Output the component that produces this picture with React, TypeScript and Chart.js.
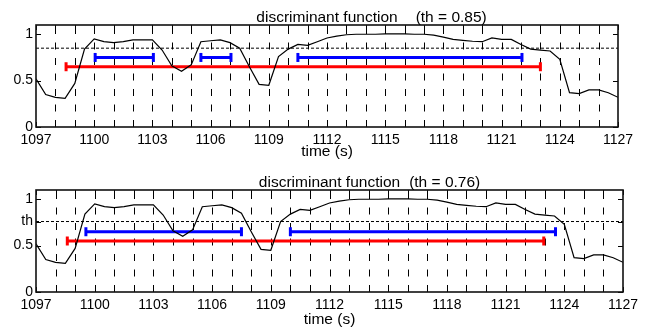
import React, { useEffect, useRef } from "react";
import { Chart, registerables } from "chart.js";

Chart.register(...registerables);

const FONT = '"Liberation Sans", Arial, Helvetica, sans-serif';

const X_MIN = 1097;
const X_MAX = 1127;
const X_TICK_LABELS = [1097, 1100, 1103, 1106, 1109, 1112, 1115, 1118, 1121, 1124, 1127];

const TIMES = [
  1097, 1097.5, 1098, 1098.5, 1099, 1099.5, 1100, 1100.5, 1101, 1101.5,
  1102, 1102.5, 1103, 1103.5, 1104, 1104.5, 1105, 1105.5, 1106, 1106.5,
  1107, 1107.5, 1108, 1108.5, 1109, 1109.5, 1110, 1110.5, 1111, 1111.5,
  1112, 1112.5, 1113, 1113.5, 1114, 1114.5, 1115, 1115.5, 1116, 1116.5,
  1117, 1117.5, 1118, 1118.5, 1119, 1119.5, 1120, 1120.5, 1121, 1121.5,
  1122, 1122.5, 1123, 1123.5, 1124, 1124.5, 1125, 1125.5, 1126, 1126.5,
  1127,
];
const SCORES = [
  0.52, 0.35, 0.32, 0.31, 0.47, 0.84, 0.95, 0.92, 0.91, 0.92,
  0.94, 0.94, 0.94, 0.83, 0.66, 0.6, 0.67, 0.92, 0.93, 0.94,
  0.91, 0.85, 0.65, 0.46, 0.45, 0.76, 0.84, 0.89, 0.88, 0.92,
  0.96, 0.98, 0.995, 1.0, 1.0, 1.0, 1.005, 1.005, 1.005, 1.0,
  1.0, 0.99, 0.97, 0.945, 0.935, 0.925, 0.92, 0.96, 0.945, 0.945,
  0.89, 0.84, 0.83, 0.82, 0.73, 0.37, 0.36, 0.4, 0.4, 0.37,
  0.32,
];

const TOP_TH = 0.85;
const TOP_BLUE_START = [1100.05, 1105.5, 1110.5];
const TOP_BLUE_END = [1103.05, 1107.05, 1122.05];
const TOP_BLUE_LEVEL = 0.75;
const TOP_RED_START = [1098.55];
const TOP_RED_END = [1123.0];
const TOP_RED_LEVEL = 0.65;
const TOP_Y_TICKS = [0, 0.5, 1];
const TOP_Y_LABELS = ["0", "0.5", "1"];

const BOTTOM_TH = 0.76;
const BOTTOM_BLUE_START = [1099.55, 1110.0];
const BOTTOM_BLUE_END = [1107.5, 1123.55];
const BOTTOM_BLUE_LEVEL = 0.65;
const BOTTOM_RED_START = [1098.6];
const BOTTOM_RED_END = [1122.95];
const BOTTOM_RED_LEVEL = 0.55;
const BOTTOM_Y_TICKS = [0, 0.5, BOTTOM_TH, 1];
const BOTTOM_Y_LABELS = ["0", "0.5", "th", "1"];

type Panel = {
  th: number;
  blueStart: number[];
  blueEnd: number[];
  blueLevel: number;
  redStart: number[];
  redEnd: number[];
  redLevel: number;
  yTicks: number[];
  yLabels: string[];
  rightPad: number;
  height: number;
  xAxisHeight: number;
  titleGap: number;
  xTitlePad: number;
};

function intervalData(starts: number[], ends: number[], level: number) {
  const out: { x: number; y: number | null }[] = [];
  starts.forEach((s, i) => {
    out.push({ x: s, y: level });
    out.push({ x: ends[i], y: level });
    out.push({ x: ends[i], y: null });
  });
  return out;
}

const decorPlugin = {
  id: "decor",
  beforeDatasetsDraw(chart: any) {
    const { ctx, chartArea: a, scales } = chart;
    const xs = scales.x;
    ctx.save();
    ctx.strokeStyle = "#000";
    ctx.lineWidth = 1;
    ctx.setLineDash([7, 8.5]);
    xs.ticks.forEach((t: any) => {
      if (t.value <= X_MIN || t.value >= X_MAX) return;
      const px = Math.round(xs.getPixelForValue(t.value)) + 0.5;
      ctx.beginPath();
      ctx.moveTo(px, a.bottom);
      ctx.lineTo(px, a.top);
      ctx.stroke();
    });
    ctx.restore();
  },
  afterDatasetsDraw(chart: any, _args: any, opts: any) {
    const { ctx, chartArea: a, scales } = chart;
    const xs = scales.x;
    const ys = scales.y;
    ctx.save();
    ctx.strokeStyle = "#000";
    ctx.lineWidth = 1;
    ctx.setLineDash([]);
    const tl = 5;
    xs.ticks.forEach((t: any) => {
      const px = Math.round(xs.getPixelForValue(t.value)) + 0.5;
      ctx.beginPath();
      ctx.moveTo(px, a.bottom);
      ctx.lineTo(px, a.bottom - tl);
      ctx.moveTo(px, a.top);
      ctx.lineTo(px, a.top + tl);
      ctx.stroke();
    });
    ys.ticks.forEach((t: any) => {
      const py = Math.round(ys.getPixelForValue(t.value)) + 0.5;
      ctx.beginPath();
      ctx.moveTo(a.left, py);
      ctx.lineTo(a.left + tl, py);
      ctx.moveTo(a.right, py);
      ctx.lineTo(a.right - tl, py);
      ctx.stroke();
    });
    ctx.lineWidth = 1.6;
    ctx.strokeStyle = "#111";
    ctx.strokeRect(a.left, a.top, a.right - a.left, a.bottom - a.top);

    // title
    ctx.fillStyle = "#000";
    ctx.font = `15.5px ${FONT}`;
    ctx.textBaseline = "alphabetic";
    ctx.textAlign = "center";
    const cx = (a.left + a.right) / 2;
    const ty = a.top - 3.3;
    const main = "discriminant function";
    ctx.fillText(main, cx, ty);
    const w = ctx.measureText(main).width;
    ctx.textAlign = "left";
    ctx.fillText(opts.note, cx + w / 2 + opts.gap, ty);
    ctx.restore();
  },
};

function PanelChart({ p }: { p: Panel }) {
  const ref = useRef<HTMLCanvasElement>(null);
  useEffect(() => {
    if (!ref.current) return;
    const curve = TIMES.map((t, i) => ({ x: t, y: SCORES[i] }));
    const chart = new Chart(ref.current, {
      type: "line",
      data: {
        datasets: [
          {
            data: [
              { x: X_MIN, y: p.th },
              { x: X_MAX, y: p.th },
            ],
            borderColor: "#000",
            borderWidth: 1,
            borderDash: [3, 2],
            pointRadius: 0,
          },
          {
            data: curve,
            borderColor: "#000",
            borderWidth: 1.2,
            pointRadius: 0,
            tension: 0,
          },
          {
            data: intervalData(p.redStart, p.redEnd, p.redLevel),
            borderColor: "#ff0000",
            borderWidth: 3,
            pointStyle: "line",
            pointRotation: 90,
            pointRadius: 4.5,
            pointBorderWidth: 3,
            pointBorderColor: "#ff0000",
            spanGaps: false,
          },
          {
            data: intervalData(p.blueStart, p.blueEnd, p.blueLevel),
            borderColor: "#0000ff",
            borderWidth: 3,
            pointStyle: "line",
            pointRotation: 90,
            pointRadius: 4.5,
            pointBorderWidth: 3,
            pointBorderColor: "#0000ff",
            spanGaps: false,
          },
        ] as any,
      },
      options: {
        responsive: false,
        animation: false,
        events: [],
        layout: { padding: { left: 0, right: p.rightPad, top: 25, bottom: 0 } },
        plugins: {
          legend: { display: false },
          tooltip: { enabled: false },
          decor: { note: `(th = ${p.th.toFixed(2)})`, gap: p.titleGap },
        } as any,
        scales: {
          x: {
            type: "linear",
            min: X_MIN,
            max: X_MAX,
            afterFit: (s: any) => {
              s.height = p.xAxisHeight;
            },
            grid: { display: false, drawTicks: false },
            border: { display: false },
            ticks: {
              stepSize: 1,
              autoSkip: false,
              maxRotation: 0,
              padding: 5,
              color: "#000",
              font: { family: FONT, size: 14 },
              callback: (v: any) => (X_TICK_LABELS.includes(Number(v)) ? String(v) : ""),
            },
            title: {
              display: true,
              text: "time (s)",
              color: "#000",
              font: { family: FONT, size: 15.5 },
              padding: { top: 0, bottom: p.xTitlePad },
            },
          },
          y: {
            min: 0,
            max: 1.1,
            afterFit: (s: any) => {
              s.width = 36;
            },
            afterBuildTicks: (s: any) => {
              s.ticks = p.yTicks.map((v) => ({ value: v }));
            },
            grid: { display: false, drawTicks: false },
            border: { display: false },
            ticks: {
              padding: 3,
              color: "#000",
              font: { family: FONT, size: 14 },
              callback: (v: any) => {
                const i = p.yTicks.indexOf(Number(v));
                return i >= 0 ? p.yLabels[i] : "";
              },
            },
          },
        },
      } as any,
      plugins: [decorPlugin],
    });
    return () => chart.destroy();
  }, [p]);
  return (
    <canvas
      ref={ref}
      width={651}
      height={p.height}
      style={{ display: "block", width: 651, height: p.height }}
    />
  );
}

const TOP_PANEL: Panel = {
  th: TOP_TH,
  blueStart: TOP_BLUE_START,
  blueEnd: TOP_BLUE_END,
  blueLevel: TOP_BLUE_LEVEL,
  redStart: TOP_RED_START,
  redEnd: TOP_RED_END,
  redLevel: TOP_RED_LEVEL,
  yTicks: TOP_Y_TICKS,
  yLabels: TOP_Y_LABELS,
  rightPad: 33,
  height: 165,
  xAxisHeight: 38,
  titleGap: 18,
  xTitlePad: 4,
};

const BOTTOM_PANEL: Panel = {
  th: BOTTOM_TH,
  blueStart: BOTTOM_BLUE_START,
  blueEnd: BOTTOM_BLUE_END,
  blueLevel: BOTTOM_BLUE_LEVEL,
  redStart: BOTTOM_RED_START,
  redEnd: BOTTOM_RED_END,
  redLevel: BOTTOM_RED_LEVEL,
  yTicks: BOTTOM_Y_TICKS,
  yLabels: BOTTOM_Y_LABELS,
  rightPad: 28,
  height: 166,
  xAxisHeight: 39,
  titleGap: 9,
  xTitlePad: 1.5,
};

export default function App() {
  return (
    <div
      style={{
        position: "absolute",
        left: 0,
        top: 0,
        width: 651,
        height: 331,
        background: "#fff",
      }}
    >
      <PanelChart p={TOP_PANEL} />
      <PanelChart p={BOTTOM_PANEL} />
    </div>
  );
}
